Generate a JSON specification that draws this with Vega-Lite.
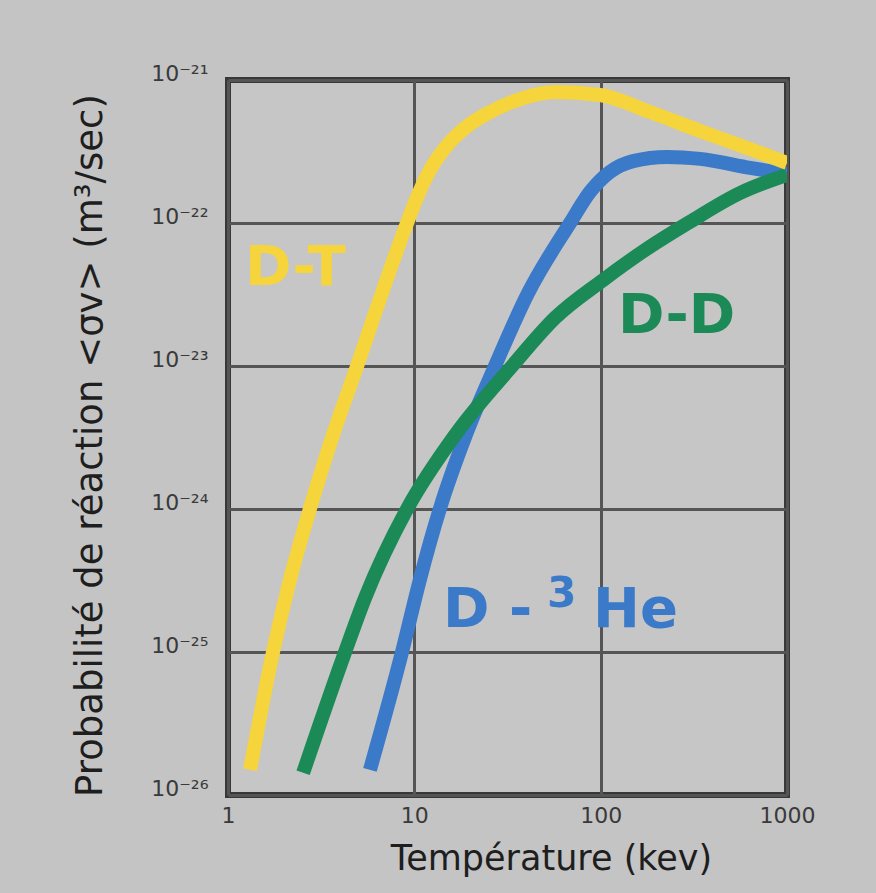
{
  "$schema": "https://vega.github.io/schema/vega-lite/v6.json",
  "width": 559,
  "height": 715,
  "autosize": {"type": "none"},
  "padding": {"left": 228, "top": 80, "right": 89, "bottom": 98},
  "background": "#c4c4c4",
  "config": {
    "view": {"stroke": "#383838", "strokeWidth": 6, "fill": "#c6c6c6"},
    "font": "DejaVu Sans"
  },
  "datasets": {
    "curves": [
      {"curve": "D-T", "T": 1.313, "sigma": 1.5e-26},
      {"curve": "D-T", "T": 1.744, "sigma": 1.0e-25},
      {"curve": "D-T", "T": 2.15, "sigma": 3.19e-25},
      {"curve": "D-T", "T": 2.75, "sigma": 1.0e-24},
      {"curve": "D-T", "T": 3.66, "sigma": 3.29e-24},
      {"curve": "D-T", "T": 4.93, "sigma": 1.0e-23},
      {"curve": "D-T", "T": 6.79, "sigma": 3.4e-23},
      {"curve": "D-T", "T": 9.14, "sigma": 1.0e-22},
      {"curve": "D-T", "T": 10.47, "sigma": 1.57e-22},
      {"curve": "D-T", "T": 12.14, "sigma": 2.35e-22},
      {"curve": "D-T", "T": 14.62, "sigma": 3.35e-22},
      {"curve": "D-T", "T": 18.71, "sigma": 4.62e-22},
      {"curve": "D-T", "T": 25.49, "sigma": 5.97e-22},
      {"curve": "D-T", "T": 36.93, "sigma": 7.36e-22},
      {"curve": "D-T", "T": 56.92, "sigma": 8.24e-22},
      {"curve": "D-T", "T": 99.3, "sigma": 7.85e-22},
      {"curve": "D-T", "T": 184.2, "sigma": 5.97e-22},
      {"curve": "D-T", "T": 341.7, "sigma": 4.4e-22},
      {"curve": "D-T", "T": 633.8, "sigma": 3.29e-22},
      {"curve": "D-T", "T": 1000, "sigma": 2.63e-22},
      {"curve": "D-3He", "T": 5.78, "sigma": 1.5e-26},
      {"curve": "D-3He", "T": 8.59, "sigma": 1.0e-25},
      {"curve": "D-3He", "T": 10.7, "sigma": 3.19e-25},
      {"curve": "D-3He", "T": 13.7, "sigma": 1.0e-24},
      {"curve": "D-3He", "T": 18.9, "sigma": 3.29e-24},
      {"curve": "D-3He", "T": 27.1, "sigma": 1.0e-23},
      {"curve": "D-3He", "T": 40.8, "sigma": 3.24e-23},
      {"curve": "D-3He", "T": 68.5, "sigma": 1.0e-22},
      {"curve": "D-3He", "T": 87.7, "sigma": 1.65e-22},
      {"curve": "D-3He", "T": 112.3, "sigma": 2.28e-22},
      {"curve": "D-3He", "T": 149.3, "sigma": 2.71e-22},
      {"curve": "D-3He", "T": 227, "sigma": 2.9e-22},
      {"curve": "D-3He", "T": 342, "sigma": 2.81e-22},
      {"curve": "D-3He", "T": 634, "sigma": 2.43e-22},
      {"curve": "D-3He", "T": 1000, "sigma": 2.2e-22},
      {"curve": "D-D", "T": 2.53, "sigma": 1.43e-26},
      {"curve": "D-D", "T": 4.25, "sigma": 1.0e-25},
      {"curve": "D-D", "T": 5.44, "sigma": 2.39e-25},
      {"curve": "D-D", "T": 9.14, "sigma": 1.0e-24},
      {"curve": "D-D", "T": 16.54, "sigma": 3.29e-24},
      {"curve": "D-D", "T": 33.5, "sigma": 1.0e-23},
      {"curve": "D-D", "T": 56.9, "sigma": 2.17e-23},
      {"curve": "D-D", "T": 103, "sigma": 3.99e-23},
      {"curve": "D-D", "T": 173.1, "sigma": 6.47e-23},
      {"curve": "D-D", "T": 302, "sigma": 1.02e-22},
      {"curve": "D-D", "T": 560, "sigma": 1.62e-22},
      {"curve": "D-D", "T": 1000, "sigma": 2.17e-22}
    ],
    "labels": [
      {"curve": "D-T", "label": "D-T", "T": 1.234, "sigma": 3.68e-23},
      {"curve": "D-D", "label": "D-D", "T": 124, "sigma": 1.7e-23},
      {"curve": "D-3He", "label": "D -", "T": 14.26, "sigma": 1.496e-25},
      {"curve": "D-3He", "label": "He", "T": 91.0, "sigma": 1.496e-25}
    ],
    "superscripts": [
      {"curve": "D-3He", "label": "3", "T": 51.6, "sigma": 2.07e-25}
    ]
  },
  "encoding": {
    "x": {
      "field": "T",
      "type": "quantitative",
      "scale": {"type": "log", "domain": [1, 1000], "nice": false},
      "axis": {
        "values": [1, 10, 100, 1000],
        "format": "d",
        "title": "Température (kev)",
        "grid": true,
        "gridColor": "#555555",
        "gridWidth": 3,
        "gridOpacity": 1,
        "ticks": false,
        "domain": false,
        "labelFontSize": 22,
        "labelColor": "#3a3a3a",
        "labelPadding": 10,
        "labelFlush": false,
        "titleFontSize": 35,
        "titleFontWeight": "normal",
        "titleColor": "#1e1e1e",
        "titleX": 323,
        "titleY": 63,
        "titleBaseline": "middle",
        "titleAlign": "center"
      }
    },
    "y": {
      "field": "sigma",
      "type": "quantitative",
      "scale": {"type": "log", "domain": [1e-26, 1e-21], "nice": false},
      "axis": {
        "values": [1e-26, 1e-25, 1e-24, 1e-23, 1e-22, 1e-21],
        "labelExpr": "'10⁻²' + ['¹','²','³','⁴','⁵','⁶'][round(-log(datum.value)/LN10) - 21]",
        "title": "Probabilité de réaction <σv> (m³/sec)",
        "grid": true,
        "gridColor": "#555555",
        "gridWidth": 3,
        "gridOpacity": 1,
        "ticks": false,
        "domain": false,
        "labelFontSize": 22,
        "labelColor": "#3a3a3a",
        "labelPadding": 20,
        "labelBaseline": "alphabetic",
        "labelFlush": false,
        "titleFontSize": 37,
        "titleFontWeight": "normal",
        "titleColor": "#1e1e1e",
        "titleX": -138,
        "titleY": 365,
        "titleAngle": -90,
        "titleBaseline": "middle",
        "titleAlign": "center"
      }
    },
    "color": {
      "field": "curve",
      "type": "nominal",
      "scale": {"domain": ["D-T", "D-D", "D-3He"], "range": ["#f5d43c", "#1b8a57", "#3b79c9"]},
      "legend": null
    }
  },
  "layer": [
    {
      "data": {"name": "curves"},
      "transform": [{"filter": "datum.curve === 'D-3He'"}],
      "mark": {"type": "line", "strokeWidth": 14, "interpolate": "monotone", "strokeCap": "butt", "clip": true}
    },
    {
      "data": {"name": "curves"},
      "transform": [{"filter": "datum.curve === 'D-D'"}],
      "mark": {"type": "line", "strokeWidth": 14, "interpolate": "monotone", "strokeCap": "butt", "clip": true}
    },
    {
      "data": {"name": "curves"},
      "transform": [{"filter": "datum.curve === 'D-T'"}],
      "mark": {"type": "line", "strokeWidth": 14, "interpolate": "monotone", "strokeCap": "butt", "clip": true}
    },
    {
      "data": {"name": "labels"},
      "mark": {"type": "text", "align": "left", "baseline": "alphabetic", "fontSize": 56, "fontWeight": "bold", "font": "DejaVu Sans"},
      "encoding": {"text": {"field": "label"}}
    },
    {
      "data": {"name": "superscripts"},
      "mark": {"type": "text", "align": "left", "baseline": "alphabetic", "fontSize": 42, "fontWeight": "bold", "font": "DejaVu Sans"},
      "encoding": {"text": {"field": "label"}}
    }
  ]
}
